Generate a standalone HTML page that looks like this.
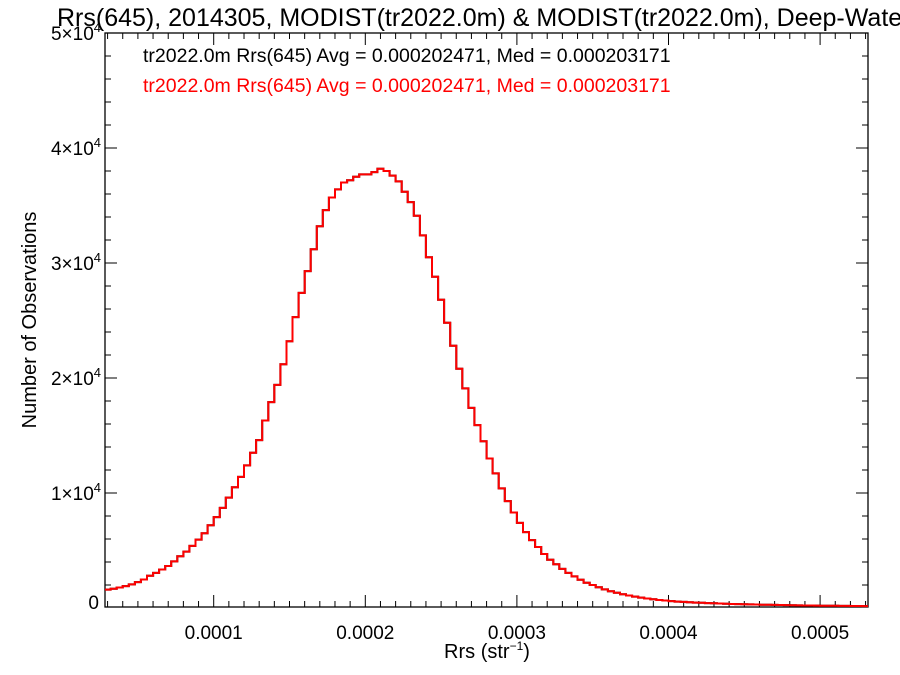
<!DOCTYPE html>
<html><head><meta charset="utf-8"><style>
body{margin:0;background:#fff}
svg{display:block;font-family:"Liberation Sans",sans-serif}
</style></head><body>
<svg id="c" width="900" height="675" viewBox="0 0 900 675">
<text x="57" y="26" font-size="25" fill="#000">Rrs(645), 2014305, MODIST(tr2022.0m) &amp; MODIST(tr2022.0m), Deep-Water</text>
<text x="143" y="62" font-size="19.5" fill="#000">tr2022.0m Rrs(645) Avg = 0.000202471, Med = 0.000203171</text>
<text x="143" y="92" font-size="19.5" fill="#ff0000">tr2022.0m Rrs(645) Avg = 0.000202471, Med = 0.000203171</text>
<text transform="translate(36,320) rotate(-90)" text-anchor="middle" font-size="20">Number of Observations</text>
<text x="487" y="658" text-anchor="middle" font-size="20">Rrs (str<tspan dy="-8" font-size="12">−1</tspan><tspan dy="8">)</tspan></text>
<g id="ax"></g><g id="series"></g>
</svg>
<script>
const binStart = 0.000028;
const binWidth = 0.000004;
const countsBlack = [1600,1680,1780,1900,2050,2250,2480,2800,3050,3350,3650,4050,4500,4900,5400,5950,6500,7200,7900,8700,9600,10500,11400,12400,13500,14600,16300,17900,19400,21200,23200,25300,27400,29300,31200,33200,34600,35700,36400,37000,37200,37500,37700,37700,37900,38200,38000,37600,37100,36200,35300,34100,32400,30500,28800,26800,24800,22800,20800,19100,17400,15900,14500,13000,11700,10400,9300,8300,7400,6600,5900,5300,4700,4200,3800,3400,3050,2750,2450,2200,2000,1800,1620,1460,1320,1200,1090,990,900,830,760,700,650,600,560,530,500,470,450,430,410,390,370,350,340,320,310,300,290,280,270,260,250,240,230,220,215,210,200,195,190,185,180,175,170,165];
const countsRed = countsBlack.slice();
const xTicks = [0.0001,0.0002,0.0003,0.0004,0.0005];
const xTickLabels = ["0.0001","0.0002","0.0003","0.0004","0.0005"];
const yTicks = [0,10000,20000,30000,40000,50000];
const yTickLabels = ["0","1","2","3","4","5"];

const L=105,R=868,T=33,B=607;
const xMin=0.0000283,xMax=0.0005316,yMax=50000;
const X=v=>L+(v-xMin)/(xMax-xMin)*(R-L);
const Y=v=>608-v/yMax*(608-T);
const NS="http://www.w3.org/2000/svg";
function mk(t,a,p){const e=document.createElementNS(NS,t);for(const k in a)e.setAttribute(k,a[k]);p.appendChild(e);return e;}
const ax=document.getElementById('ax');
const frame=mk('rect',{x:L,y:T,width:R-L,height:B-T,fill:'none',stroke:'#000','stroke-width':1.3},ax);


for(let k=3;k<=53;k++){const v=k*0.00001;const x=X(v);if(x<L||x>R)continue;const maj=k%10===0;const len=maj?12:6;
 const t1=mk('line',{x1:x,x2:x,y1:B,y2:B-len,stroke:'#000','stroke-width':1},ax);
 
 
 const t2=mk('line',{x1:x,x2:x,y1:T,y2:T+len,stroke:'#000','stroke-width':1},ax);
 
 }
xTicks.forEach((v,i)=>{const t=mk('text',{x:X(v),y:639,'text-anchor':'middle','font-size':19},ax);t.textContent=xTickLabels[i];
 
 });
for(let k=0;k<=25;k++){const v=k*2000;const y=Y(v);if(y>B)continue;const maj=k%5===0;const len=maj?12:6;
 const t1=mk('line',{x1:L,x2:L+len,y1:y,y2:y,stroke:'#000','stroke-width':1},ax);
 
 
 const t2=mk('line',{x1:R,x2:R-len,y1:y,y2:y,stroke:'#000','stroke-width':1},ax);
 
 }
yTicks.forEach((v,i)=>{const t=mk('text',{x:v===0?99:101,y:Y(v)+(v===0?1:7),'text-anchor':'end','font-size':19},ax);
 if(v===0)t.textContent="0";else{t.textContent=yTickLabels[i]+"×10";const s=mk('tspan',{dy:-8,'font-size':13},t);s.textContent="4";}
 
 });
function stepPath(arr){let d="";arr.forEach((c,i)=>{const x0=Math.max(L,X(binStart+i*binWidth)),x1=Math.min(R,X(binStart+(i+1)*binWidth));const y=Y(c);d+=(i===0?"M":"L")+x0.toFixed(1)+","+y.toFixed(1)+"L"+x1.toFixed(1)+","+y.toFixed(1);});return d;}
const g=document.getElementById('series');
const pb=mk('path',{d:stepPath(countsBlack),fill:'none',stroke:'#000','stroke-width':2},g);


const pr=mk('path',{d:stepPath(countsRed),fill:'none',stroke:'#ff0000','stroke-width':2},g);


</script>
</body></html>
